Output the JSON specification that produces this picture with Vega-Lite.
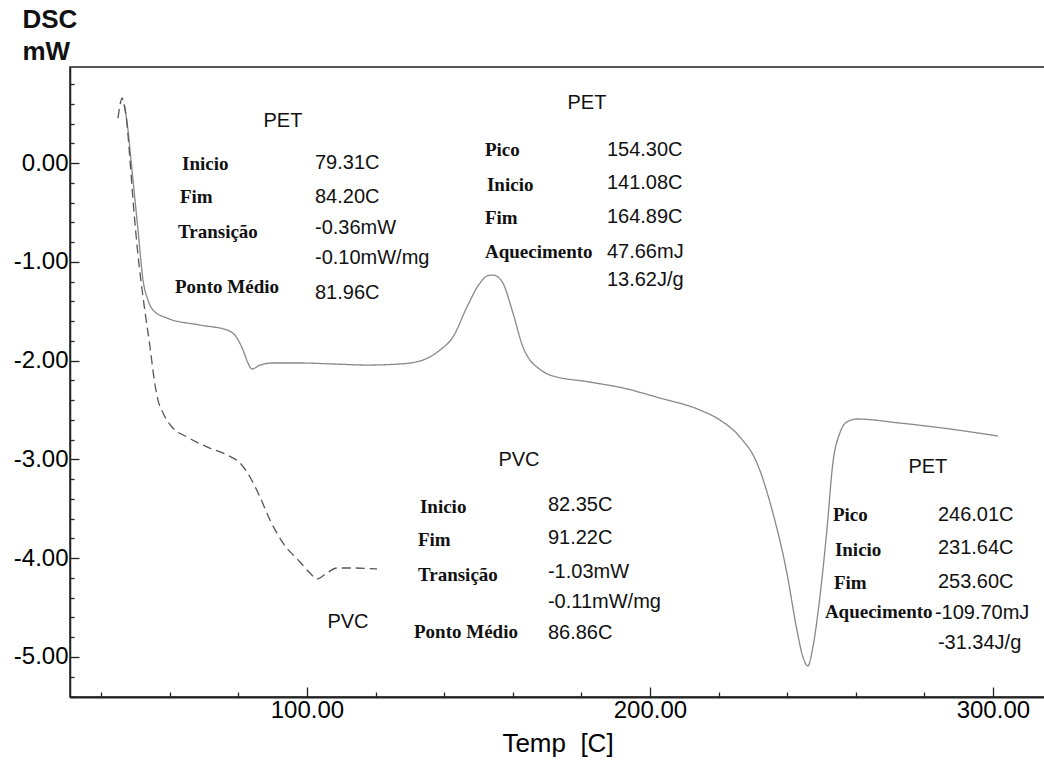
{
  "$schema": "https://vega.github.io/schema/vega-lite/v6.json",
  "autosize": "none",
  "padding": {"left": 70, "top": 67, "right": 0, "bottom": 65},
  "width": 975,
  "height": 630,
  "background": "white",
  "config": {
    "view": {"stroke": "#222222", "strokeWidth": 1.5},
    "axis": {"grid": false},
    "text": {"color": "#111111"}
  },
  "resolve": {"axis": {"y": "independent"}},
  "datasets": {
    "curves": [
      {"series": "PET", "temp": 46.65, "mW": 0.597},
      {"series": "PET", "temp": 47.23, "mW": 0.486},
      {"series": "PET", "temp": 47.81, "mW": 0.334},
      {"series": "PET", "temp": 48.40, "mW": 0.132},
      {"series": "PET", "temp": 49.27, "mW": -0.172},
      {"series": "PET", "temp": 50.73, "mW": -0.678},
      {"series": "PET", "temp": 52.19, "mW": -1.184},
      {"series": "PET", "temp": 53.64, "mW": -1.387},
      {"series": "PET", "temp": 55.10, "mW": -1.488},
      {"series": "PET", "temp": 59.18, "mW": -1.569},
      {"series": "PET", "temp": 68.80, "mW": -1.640},
      {"series": "PET", "temp": 76.68, "mW": -1.690},
      {"series": "PET", "temp": 79.59, "mW": -1.771},
      {"series": "PET", "temp": 81.34, "mW": -1.893},
      {"series": "PET", "temp": 82.80, "mW": -2.024},
      {"series": "PET", "temp": 83.97, "mW": -2.085},
      {"series": "PET", "temp": 86.30, "mW": -2.045},
      {"series": "PET", "temp": 90.09, "mW": -2.024},
      {"series": "PET", "temp": 97.96, "mW": -2.024},
      {"series": "PET", "temp": 107.58, "mW": -2.034},
      {"series": "PET", "temp": 117.49, "mW": -2.045},
      {"series": "PET", "temp": 127.11, "mW": -2.034},
      {"series": "PET", "temp": 132.94, "mW": -2.004},
      {"series": "PET", "temp": 138.78, "mW": -1.893},
      {"series": "PET", "temp": 142.57, "mW": -1.761},
      {"series": "PET", "temp": 146.65, "mW": -1.457},
      {"series": "PET", "temp": 150.44, "mW": -1.215},
      {"series": "PET", "temp": 152.48, "mW": -1.144},
      {"series": "PET", "temp": 154.23, "mW": -1.134},
      {"series": "PET", "temp": 155.69, "mW": -1.154},
      {"series": "PET", "temp": 157.14, "mW": -1.215},
      {"series": "PET", "temp": 160.06, "mW": -1.518},
      {"series": "PET", "temp": 162.97, "mW": -1.862},
      {"series": "PET", "temp": 165.01, "mW": -1.994},
      {"series": "PET", "temp": 167.06, "mW": -2.065},
      {"series": "PET", "temp": 170.85, "mW": -2.146},
      {"series": "PET", "temp": 182.51, "mW": -2.217},
      {"series": "PET", "temp": 192.13, "mW": -2.277},
      {"series": "PET", "temp": 202.92, "mW": -2.379},
      {"series": "PET", "temp": 214.58, "mW": -2.500},
      {"series": "PET", "temp": 220.41, "mW": -2.601},
      {"series": "PET", "temp": 226.24, "mW": -2.773},
      {"series": "PET", "temp": 231.20, "mW": -3.036},
      {"series": "PET", "temp": 235.86, "mW": -3.543},
      {"series": "PET", "temp": 239.94, "mW": -4.150},
      {"series": "PET", "temp": 242.86, "mW": -4.727},
      {"series": "PET", "temp": 244.61, "mW": -5.000},
      {"series": "PET", "temp": 246.06, "mW": -5.091},
      {"series": "PET", "temp": 247.52, "mW": -4.899},
      {"series": "PET", "temp": 249.56, "mW": -4.393},
      {"series": "PET", "temp": 251.60, "mW": -3.715},
      {"series": "PET", "temp": 253.35, "mW": -3.036},
      {"series": "PET", "temp": 255.39, "mW": -2.733},
      {"series": "PET", "temp": 257.43, "mW": -2.621},
      {"series": "PET", "temp": 260.35, "mW": -2.591},
      {"series": "PET", "temp": 272.89, "mW": -2.632},
      {"series": "PET", "temp": 287.46, "mW": -2.692},
      {"series": "PET", "temp": 301.46, "mW": -2.763},
      {"series": "PVC", "temp": 44.90, "mW": 0.455},
      {"series": "PVC", "temp": 45.48, "mW": 0.587},
      {"series": "PVC", "temp": 46.06, "mW": 0.658},
      {"series": "PVC", "temp": 46.65, "mW": 0.597},
      {"series": "PVC", "temp": 47.23, "mW": 0.486},
      {"series": "PVC", "temp": 47.81, "mW": 0.283},
      {"series": "PVC", "temp": 48.40, "mW": 0.030},
      {"series": "PVC", "temp": 49.27, "mW": -0.374},
      {"series": "PVC", "temp": 50.73, "mW": -0.931},
      {"series": "PVC", "temp": 52.19, "mW": -1.356},
      {"series": "PVC", "temp": 54.23, "mW": -1.862},
      {"series": "PVC", "temp": 55.69, "mW": -2.247},
      {"series": "PVC", "temp": 56.56, "mW": -2.399},
      {"series": "PVC", "temp": 58.02, "mW": -2.530},
      {"series": "PVC", "temp": 60.64, "mW": -2.672},
      {"series": "PVC", "temp": 65.01, "mW": -2.773},
      {"series": "PVC", "temp": 70.85, "mW": -2.874},
      {"series": "PVC", "temp": 76.68, "mW": -2.955},
      {"series": "PVC", "temp": 80.47, "mW": -3.036},
      {"series": "PVC", "temp": 83.38, "mW": -3.178},
      {"series": "PVC", "temp": 86.30, "mW": -3.381},
      {"series": "PVC", "temp": 89.21, "mW": -3.613},
      {"series": "PVC", "temp": 93.00, "mW": -3.846},
      {"series": "PVC", "temp": 97.96, "mW": -4.038},
      {"series": "PVC", "temp": 100.87, "mW": -4.150},
      {"series": "PVC", "temp": 102.92, "mW": -4.211},
      {"series": "PVC", "temp": 105.83, "mW": -4.150},
      {"series": "PVC", "temp": 108.75, "mW": -4.099},
      {"series": "PVC", "temp": 113.41, "mW": -4.099},
      {"series": "PVC", "temp": 120.41, "mW": -4.109}
    ],
    "headings": [
      {"temp": 93.00, "mW": 0.425, "text": "PET"},
      {"temp": 181.63, "mW": 0.607, "text": "PET"},
      {"temp": 161.81, "mW": -3.006, "text": "PVC"},
      {"temp": 281.05, "mW": -3.077, "text": "PET"},
      {"temp": 111.95, "mW": -4.646, "text": "PVC"}
    ],
    "terms": [
      {"temp": 63.56, "mW": -0.010, "text": "Inicio"},
      {"temp": 62.97, "mW": -0.344, "text": "Fim"},
      {"temp": 62.39, "mW": -0.698, "text": "Transição"},
      {"temp": 61.52, "mW": -1.255, "text": "Ponto Médio"},
      {"temp": 151.90, "mW": 0.132, "text": "Pico"},
      {"temp": 152.48, "mW": -0.223, "text": "Inicio"},
      {"temp": 151.90, "mW": -0.557, "text": "Fim"},
      {"temp": 151.90, "mW": -0.901, "text": "Aquecimento"},
      {"temp": 132.94, "mW": -3.482, "text": "Inicio"},
      {"temp": 132.36, "mW": -3.816, "text": "Fim"},
      {"temp": 132.36, "mW": -4.170, "text": "Transição"},
      {"temp": 131.20, "mW": -4.747, "text": "Ponto Médio"},
      {"temp": 253.35, "mW": -3.563, "text": "Pico"},
      {"temp": 253.94, "mW": -3.917, "text": "Inicio"},
      {"temp": 253.64, "mW": -4.251, "text": "Fim"},
      {"temp": 251.02, "mW": -4.545, "text": "Aquecimento"}
    ],
    "values": [
      {"temp": 102.33, "mW": 0.000, "text": "79.31C"},
      {"temp": 102.33, "mW": -0.344, "text": "84.20C"},
      {"temp": 102.33, "mW": -0.658, "text": "-0.36mW"},
      {"temp": 102.33, "mW": -0.962, "text": "-0.10mW/mg"},
      {"temp": 102.33, "mW": -1.316, "text": "81.96C"},
      {"temp": 187.46, "mW": 0.132, "text": "154.30C"},
      {"temp": 187.46, "mW": -0.202, "text": "141.08C"},
      {"temp": 187.46, "mW": -0.547, "text": "164.89C"},
      {"temp": 187.46, "mW": -0.901, "text": "47.66mJ"},
      {"temp": 187.46, "mW": -1.184, "text": "13.62J/g"},
      {"temp": 170.26, "mW": -3.462, "text": "82.35C"},
      {"temp": 170.26, "mW": -3.796, "text": "91.22C"},
      {"temp": 170.26, "mW": -4.140, "text": "-1.03mW"},
      {"temp": 170.26, "mW": -4.443, "text": "-0.11mW/mg"},
      {"temp": 170.26, "mW": -4.757, "text": "86.86C"},
      {"temp": 283.97, "mW": -3.563, "text": "246.01C"},
      {"temp": 283.97, "mW": -3.897, "text": "231.64C"},
      {"temp": 283.97, "mW": -4.241, "text": "253.60C"},
      {"temp": 283.09, "mW": -4.555, "text": "-109.70mJ"},
      {"temp": 283.97, "mW": -4.858, "text": "-31.34J/g"}
    ]
  },
  "layer": [
    {
      "data": {"name": "curves"},
      "mark": {"type": "line", "interpolate": "monotone", "strokeWidth": 1.3},
      "encoding": {
        "x": {
          "field": "temp", "type": "quantitative",
          "scale": {"domain": [30.9, 315.2], "nice": false, "zero": false},
          "axis": {
            "title": "Temp\u00a0\u00a0[C]",
            "values": [40, 60, 80, 100, 120, 140, 160, 180, 200, 220, 240, 260, 280, 300],
            "labelExpr": "datum.value % 100 === 0 ? format(datum.value, '.2f') : ''",
            "tickSize": {"condition": {"test": "datum.value % 100 === 0", "value": -10}, "value": -5},
            "labelFontSize": {"condition": {"test": "datum.value % 100 === 0", "value": 24}, "value": 1},
            "tickColor": "#222222",
            "tickWidth": 1.3,
            "domainColor": "#222222",
            "domainWidth": 2,
            "labelPadding": 30,
            "labelBaseline": "alphabetic",
            "labelFont": "Liberation Sans",
            "labelFontWeight": "normal",
            "labelColor": "#000000",
            "labelOverlap": false,
            "labelFlush": false,
            "titleFont": "Liberation Sans",
            "titleFontSize": 26,
            "titleFontWeight": "normal",
            "titleColor": "#000000",
            "titleBaseline": "alphabetic",
            "titleY": 54
          }
        },
        "y": {
          "field": "mW", "type": "quantitative",
          "scale": {"domain": [-5.405, 0.972], "nice": false, "zero": false},
          "axis": {
            "orient": "left",
            "title": ["DSC", "mW"],
            "values": [-5, -4, -3, -2, -1, 0],
            "labelExpr": "replace(format(datum.value, '.2f'), '−', '-')",
            "tickSize": -9,
            "tickColor": "#222222",
            "tickWidth": 1.3,
            "domainColor": "#222222",
            "domainWidth": 1.5,
            "labelPadding": 11,
            "labelFont": "Liberation Sans",
            "labelFontSize": 24,
            "labelFontWeight": "normal",
            "labelColor": "#000000",
            "labelOverlap": false,
            "labelFlush": false,
            "titleFont": "Liberation Sans",
            "titleFontSize": 26,
            "titleFontWeight": "bold",
            "titleColor": "#111111",
            "titleAngle": 0,
            "titleAlign": "left",
            "titleBaseline": "top",
            "titleX": -48,
            "titleY": -61,
            "titleLineHeight": 32
          }
        },
        "color": {"field": "series", "type": "nominal", "scale": {"domain": ["PET", "PVC"], "range": ["#888888", "#555555"]}, "legend": null},
        "strokeDash": {"field": "series", "type": "nominal", "scale": {"domain": ["PET", "PVC"], "range": [[1, 0], [9, 5]]}, "legend": null}
      }
    },
    {
      "data": {"name": "headings"},
      "mark": {"type": "text", "align": "center", "baseline": "middle", "font": "Liberation Sans", "fontSize": 20, "color": "#111111"},
      "encoding": {
        "x": {"field": "temp", "type": "quantitative"},
        "y": {
          "field": "mW", "type": "quantitative",
          "axis": {
            "orient": "left",
            "title": null,
            "values": [-5.4, -5.2, -4.8, -4.6, -4.4, -4.2, -3.8, -3.6, -3.4, -3.2, -2.8, -2.6, -2.4, -2.2, -1.8, -1.6, -1.4, -1.2, -0.8, -0.6, -0.4, -0.2, 0.2, 0.4, 0.6, 0.8],
            "labels": false,
            "domain": false,
            "tickSize": -4,
            "tickColor": "#222222",
            "tickWidth": 1.3
          }
        },
        "text": {"field": "text"}
      }
    },
    {
      "data": {"name": "terms"},
      "mark": {"type": "text", "align": "left", "baseline": "middle", "font": "Liberation Serif", "fontSize": 19, "fontWeight": "bold", "color": "#111111"},
      "encoding": {
        "x": {"field": "temp", "type": "quantitative"},
        "y": {"field": "mW", "type": "quantitative", "axis": null},
        "text": {"field": "text"}
      }
    },
    {
      "data": {"name": "values"},
      "mark": {"type": "text", "align": "left", "baseline": "middle", "font": "Liberation Sans", "fontSize": 20, "color": "#111111"},
      "encoding": {
        "x": {"field": "temp", "type": "quantitative"},
        "y": {"field": "mW", "type": "quantitative", "axis": null},
        "text": {"field": "text"}
      }
    }
  ]
}
